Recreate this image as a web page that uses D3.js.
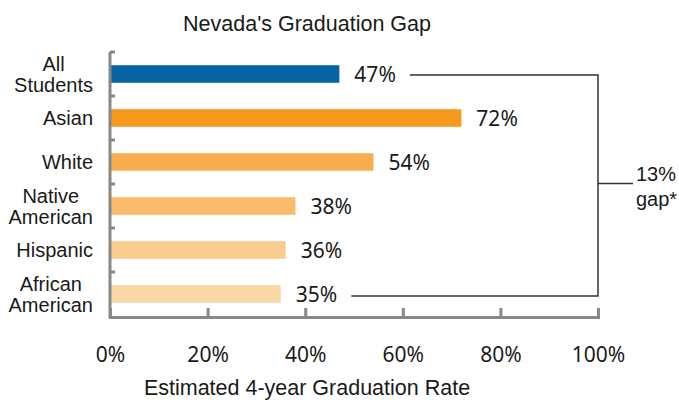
<!DOCTYPE html>
<html>
<head>
<meta charset="utf-8">
<script src="https://cdn.jsdelivr.net/npm/d3@7"></script>
<style>
  body { margin: 0; background: #fff; }
  svg { display: block; }
  .cat-label { font-family: "Liberation Sans", Arial, sans-serif; font-size: 20px; fill: #1a1a1a; }
  .val-label { font-family: "Noto Sans", sans-serif; font-size: 21px; fill: #1a1a1a; }
  .x-axis text { font-family: "Noto Sans", sans-serif; font-size: 21px; fill: #1a1a1a; }
  .title, .axis-title { font-family: "Liberation Sans", Arial, sans-serif; font-size: 21.5px; fill: #1a1a1a; }
  .gap-label { font-family: "Liberation Sans", Arial, sans-serif; font-size: 20px; fill: #1a1a1a; }
</style>
</head>
<body>
<svg id="chart"></svg>
<script>
// chart values
const categories = ['All Students', 'Asian', 'White', 'Native American', 'Hispanic', 'African American'];
const rates = [47, 72, 54, 38, 36, 35];
const barColors = ['#0864a5', '#f7991f', '#f8ae4f', '#f9bc6b', '#fbcb90', '#fcd7a6'];
const xTicks = [0, 20, 40, 60, 80, 100];
const gapText = ['13%', 'gap*'];

const width = 679, height = 400;
const svg = d3.select('#chart').attr('width', width).attr('height', height);

const x = d3.scaleLinear().domain([0, 100]).range([110, 598]);
const y = d3.scaleBand().domain(categories).range([52, 316]).paddingInner(0.6).paddingOuter(0.3);

const data = categories.map((c, i) => ({cat: c, value: rates[i], color: barColors[i]}));
const axisColor = '#888888';

// title
svg.append('text').attr('class', 'title')
    .attr('x', 307).attr('y', 31)
    .attr('text-anchor', 'middle')
    .text("Nevada's Graduation Gap");

// bars
svg.selectAll('.bar')
    .data(data)
    .join('rect')
    .attr('class', 'bar')
    .attr('x', x(0))
    .attr('y', d => y(d.cat))
    .attr('width', d => x(d.value) - x(0))
    .attr('height', y.bandwidth())
    .attr('fill', d => d.color);

// x axis, ticks pointing up
const xAxis = d3.axisBottom(x)
    .tickValues(xTicks)
    .tickFormat(d => d + '%')
    .tickSizeInner(-9)
    .tickSizeOuter(-9)
    .tickPadding(30);

const xAxisG = svg.append('g')
    .attr('class', 'x-axis')
    .attr('transform', 'translate(0,317)')
    .call(xAxis);
xAxisG.select('.domain').attr('stroke', axisColor).attr('stroke-width', 3);
xAxisG.selectAll('.tick line').attr('stroke', axisColor).attr('stroke-width', 3);
xAxisG.selectAll('.tick text').attr('font-family', null).attr('font-size', null);

// y axis line + boundary ticks
const step = y.step();
const bounds = categories.map(c => y(c) - (step - y.bandwidth()) / 2);
svg.append('line')
    .attr('x1', x(0)).attr('x2', x(0))
    .attr('y1', bounds[0]).attr('y2', 318)
    .attr('stroke', axisColor).attr('stroke-width', 3);
svg.selectAll('.y-tick')
    .data(bounds)
    .join('line')
    .attr('class', 'y-tick')
    .attr('x1', x(0)).attr('x2', x(0) + 5)
    .attr('y1', d => d).attr('y2', d => d)
    .attr('stroke', axisColor).attr('stroke-width', 3);

// category labels (multi-line, centred lines, right edge near axis)
const wrap = {'All Students': ['All', 'Students'], 'Native American': ['Native', 'American'], 'African American': ['African', 'American']};
svg.selectAll('.cat-label')
    .data(data)
    .join('text')
    .attr('class', 'cat-label')
    .attr('text-anchor', 'middle')
    .each(function(d) {
        const t = d3.select(this);
        const lines = wrap[d.cat] || [d.cat];
        const cy = y(d.cat) + y.bandwidth() / 2;
        const y0 = cy + 7 - (lines.length - 1) * 21 / 2;
        lines.forEach((l, i) => {
            t.append('tspan').attr('x', 0).attr('y', y0 + i * 21).text(l);
        });
        const w = this.getBBox().width;
        t.attr('transform', `translate(${93 - w / 2},0)`);
    });

// value labels
const valLabels = svg.selectAll('.val-label')
    .data(data)
    .join('text')
    .attr('class', 'val-label')
    .attr('x', d => x(d.value) + 15)
    .attr('y', d => y(d.cat) + y.bandwidth() / 2 + 8)
    .text(d => d.value + '%');

// gap bracket between the overall rate and the lowest group
const first = data[0], last = data[data.length - 1];
const endOf = d => x(d.value) + 15 + valLabels.filter(e => e === d).node().getComputedTextLength() + 14;
const yTop = y(first.cat) + y.bandwidth() / 2 + 1;
const yBot = y(last.cat) + y.bandwidth() / 2 + 2;
const bx = x(100);
svg.append('path')
    .attr('d', `M${endOf(first)},${yTop}H${bx}V${yBot}H${endOf(last)}`)
    .attr('fill', 'none').attr('stroke', '#333').attr('stroke-width', 1.5);
const yMid = (yTop + yBot) / 2 - 2;
svg.append('line')
    .attr('x1', bx).attr('x2', bx + 35)
    .attr('y1', yMid).attr('y2', yMid)
    .attr('stroke', '#333').attr('stroke-width', 1.5);
svg.selectAll('.gap-label')
    .data(gapText)
    .join('text')
    .attr('class', 'gap-label')
    .attr('x', bx + 38)
    .attr('y', (d, i) => yMid - 3 + i * 25)
    .text(d => d);

// axis title
svg.append('text').attr('class', 'axis-title')
    .attr('x', 307).attr('y', 395)
    .attr('text-anchor', 'middle')
    .text('Estimated 4-year Graduation Rate');
</script>
</body>
</html>
